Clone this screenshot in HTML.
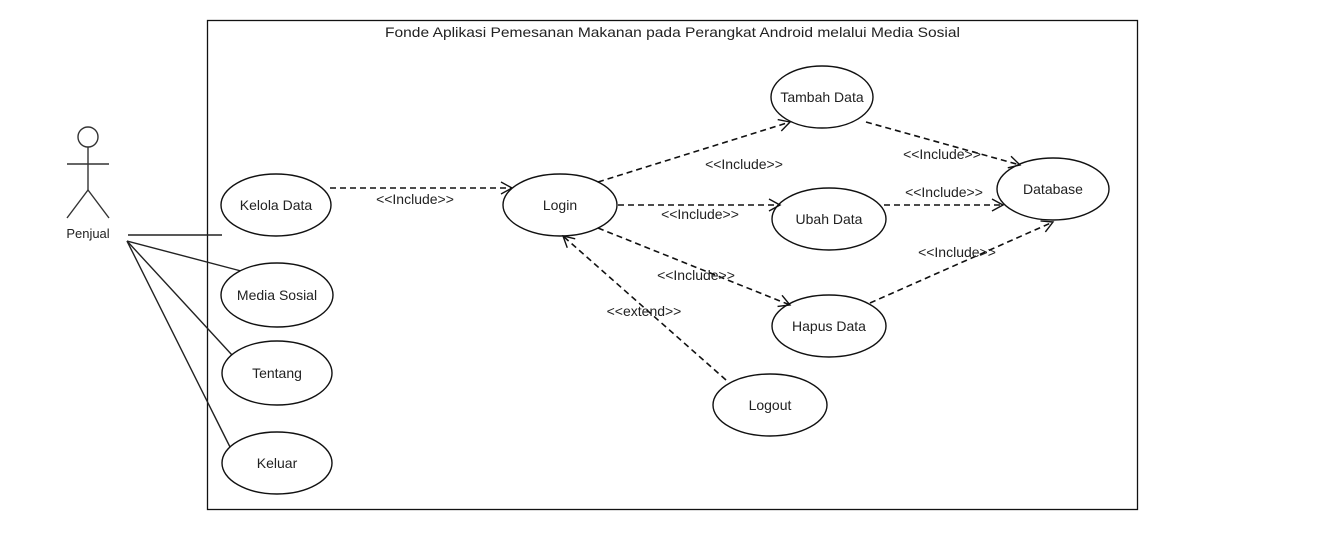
<!DOCTYPE html>
<html><head><meta charset="utf-8"><style>
html,body{margin:0;padding:0;background:#fff}
svg{display:block}
text{font-family:"Liberation Sans",sans-serif;fill:#222}
</style></head><body>
<svg width="1334" height="554" viewBox="0 0 1334 554" xmlns="http://www.w3.org/2000/svg">
<defs>
<marker id="a" markerWidth="14" markerHeight="14" refX="12" refY="7" orient="auto" markerUnits="userSpaceOnUse">
<path d="M1,1 L12,7 L1,13" fill="none" stroke="#111" stroke-width="1.4"/>
</marker>
</defs>
<rect x="207.5" y="20.5" width="930" height="489" fill="none" stroke="#111" stroke-width="1.3"/>
<text x="385" y="37" font-size="14" textLength="575" lengthAdjust="spacingAndGlyphs">Fonde Aplikasi Pemesanan Makanan pada Perangkat Android melalui Media Sosial</text>
<g stroke="#333" stroke-width="1.4" fill="none">
<circle cx="88" cy="137" r="10"/>
<line x1="88" y1="147" x2="88" y2="190"/>
<line x1="67" y1="164" x2="109" y2="164"/>
<line x1="88" y1="190" x2="67" y2="218"/>
<line x1="88" y1="190" x2="109" y2="218"/>
</g>
<text x="88" y="238" font-size="13" text-anchor="middle">Penjual</text>
<g stroke="#222" stroke-width="1.4" fill="none">
<line x1="128" y1="235" x2="222" y2="235"/>
<line x1="127" y1="241" x2="241" y2="271"/>
<line x1="127" y1="241" x2="232" y2="355"/>
<line x1="127" y1="241" x2="230" y2="447"/>
</g>
<g stroke="#111" stroke-width="1.4" fill="#fff">
<ellipse cx="276" cy="205" rx="55" ry="31"/>
<ellipse cx="277" cy="295" rx="56" ry="32"/>
<ellipse cx="277" cy="373" rx="55" ry="32"/>
<ellipse cx="277" cy="463" rx="55" ry="31"/>
<ellipse cx="560" cy="205" rx="57" ry="31"/>
<ellipse cx="822" cy="97" rx="51" ry="31"/>
<ellipse cx="829" cy="219" rx="57" ry="31"/>
<ellipse cx="829" cy="326" rx="57" ry="31"/>
<ellipse cx="1053" cy="189" rx="56" ry="31"/>
<ellipse cx="770" cy="405" rx="57" ry="31"/>
</g>
<g font-size="14" text-anchor="middle">
<text x="276" y="210">Kelola Data</text>
<text x="277" y="300">Media Sosial</text>
<text x="277" y="378">Tentang</text>
<text x="277" y="468">Keluar</text>
<text x="560" y="210">Login</text>
<text x="822" y="102">Tambah Data</text>
<text x="829" y="224">Ubah Data</text>
<text x="829" y="331">Hapus Data</text>
<text x="1053" y="194">Database</text>
<text x="770" y="410">Logout</text>
</g>
<g stroke="#111" stroke-width="1.6" stroke-dasharray="6,4" fill="none" marker-end="url(#a)">
<line x1="330" y1="188" x2="512" y2="188"/>
<line x1="598" y1="182" x2="790" y2="122"/>
<line x1="618" y1="205" x2="780" y2="205"/>
<line x1="598" y1="228" x2="790" y2="305"/>
<line x1="866" y1="122" x2="1020" y2="165"/>
<line x1="884" y1="205" x2="1003" y2="205"/>
<line x1="870" y1="303" x2="1053" y2="222"/>
<line x1="726" y1="380" x2="563" y2="236"/>
</g>
<g font-size="14" text-anchor="middle" fill="#111">
<text x="415" y="204">&lt;&lt;Include&gt;&gt;</text>
<text x="744" y="169">&lt;&lt;Include&gt;&gt;</text>
<text x="700" y="219">&lt;&lt;Include&gt;&gt;</text>
<text x="696" y="280">&lt;&lt;Include&gt;&gt;</text>
<text x="942" y="159">&lt;&lt;Include&gt;&gt;</text>
<text x="944" y="197">&lt;&lt;Include&gt;&gt;</text>
<text x="957" y="257">&lt;&lt;Include&gt;&gt;</text>
<text x="644" y="316">&lt;&lt;extend&gt;&gt;</text>
</g>
</svg>
</body></html>
